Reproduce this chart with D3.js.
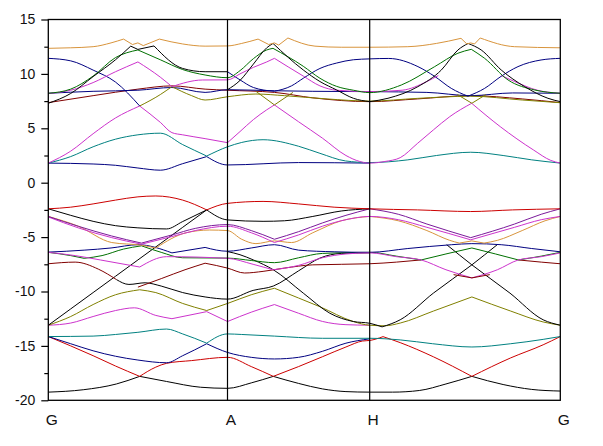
<!DOCTYPE html>
<html><head><meta charset="utf-8">
<script src="https://cdn.jsdelivr.net/npm/d3@7"></script>
<style>body{margin:0;background:#fff}svg{display:block}</style>
</head><body>
<svg id="c" width="603" height="446"></svg>
<script>
// ---- k-path (high-symmetry points) and ticks ----
const kPoints = [0, 1, 2, 3];
const kLabels = ["G", "A", "H", "G"];
const yMajorTicks = [15, 10, 5, 0, -5, -10, -15, -20];
const yMinorTicks = [12.5, 7.5, 2.5, -2.5, -7.5, -12.5, -17.5];
const yDomain = [-20, 15];

// ---- band energies: [k, E(eV)] ----
const orangeTop = [[0,12.35],[.125,12.4],[.25,12.5],[.35,12.85],[.42,13.2],[.47,12.7],[.5,12.85],[.53,12.6],[.62,13.2],[.75,12.75],[.875,12.55],[1,12.57],[1.1,12.8],[1.215,13.2],[1.29,12.7],[1.33,12.85],[1.36,12.65],[1.425,13.3],[1.615,12.55],[1.8,12.45],[2,12.45],[2.2,12.5],[2.35,12.8],[2.479,13.27],[2.51,12.75],[2.53,12.85],[2.55,12.75],[2.58,13.3],[2.76,12.5],[3,12.4]];
const blackM = [[0,7.3],[.125,8.2],[.25,9.75],[.375,11.3],[.46,12.55],[.5,12.25],[.59,12.57],[.75,10.5],[.875,10.2],[1,10.2]];
const blackUp = [[1,8.55],[1.088,9.4],[1.182,10.9],[1.276,12.4],[1.32,12.8],[1.533,10.36],[1.65,9.3],[1.768,8.52],[1.885,7.76],[2,7.45],[2.096,7.76],[2.253,8.83],[2.376,10.36],[2.463,12.2],[2.516,12.8],[2.585,12.2],[2.69,10.36],[2.813,8.83],[2.935,7.76],[3,7.45]];
const greenUp = [[0,8.22],[.125,8.6],[.25,9.8],[.375,11.5],[.5,12.2],[.625,11.3],[.75,10.4],[.875,9.9],[1,9.65],[1.088,10.3],[1.182,11.4],[1.276,12.2],[1.32,12.35],[1.533,10.7],[1.65,9.6],[1.768,8.85],[1.885,8.5],[2,8.28],[2.166,8.98],[2.341,10.67],[2.463,11.9],[2.533,12.26],[2.603,11.43],[2.726,9.44],[2.866,8.52],[3,8.22]];
const navyDesc = [[0,11.43],[.125,11.2],[.25,10.35],[.375,9.25],[.51,7.05]];
const navyArc = [[1,10.2],[1.088,9.45],[1.182,8.75],[1.33,8.4],[1.45,8.9],[1.533,9.6],[1.65,10.5],[1.768,11.0],[1.885,11.3],[2,11.38],[2.1,11.42],[2.253,10.67],[2.341,9.77],[2.428,8.67],[2.515,7.95],[2.603,8.67],[2.689,9.77],[2.778,10.67],[2.899,11.28],[3,11.43]];
const oliveUp = [[.51,7.05],[.625,8.1],[.69,8.83],[.8,8.0],[.875,7.6],[1,7.9],[1.2,8.15],[1.4,8.0],[1.7,7.7],[2,7.5],[2.25,7.75],[2.53,7.95],[2.8,7.6],[3,7.35]];
const oliveV1 = [[1.2,8.4],[1.33,7.15],[1.46,8.3]];
const oliveV2 = [[2.46,8.1],[2.536,7.3],[2.61,8.1]];
const maroonUp = [[0,7.36],[.25,8.0],[.5,8.6],[.69,8.9],[.875,8.6],[1,8.5],[1.33,8.3],[1.6,7.8],[2,7.45],[2.25,7.7],[2.53,8.0],[2.8,7.7],[3,7.36]];
const navyFlat = [[0,8.22],[.25,8.4],[.5,8.5],[.69,8.75],[.875,8.3],[1,8.55],[1.33,8.45],[1.6,8.4],[2,8.37],[2.3,8.3],[2.53,8.0],[2.75,8.25],[3,8.22]];
const magentaPeak = [[0,8.2],[.125,8.5],[.25,9.2],[.375,10.2],[.5,11.1],[.625,9.7],[.69,8.83],[.86,9.44],[1,9.45],[1.088,10.0],[1.182,10.6],[1.276,11.1],[1.33,11.43],[1.533,9.8],[1.65,8.9],[1.768,8.5],[2,8.37],[2.17,8.5],[2.3,9.3],[2.36,9.85]];
const magentaPeak2 = [[2.69,9.85],[2.76,9.3],[2.88,8.5],[3,8.22]];
const magentaLow = [[0,1.8],[.125,2.9],[.25,4.5],[.375,5.95],[.51,7.05],[.625,5.55],[.69,4.6],[.75,4.4],[.875,4.05],[1,3.68],[1.088,4.7],[1.182,5.8],[1.276,6.7],[1.33,7.15],[1.5,5.6],[1.667,4.1],[1.833,2.5],[1.93,1.95],[2,1.8],[2.08,1.95],[2.16,2.3],[2.25,3.6],[2.334,4.85],[2.42,6.07],[2.535,7.3],[2.685,5.15],[2.86,3.0],[2.95,2.05],[3,1.8]];
const tealUp = [[0,1.8],[.125,2.4],[.25,3.3],[.375,4.0],[.5,4.4],[.625,4.55],[.75,3.5],[.884,2.45],[1,3.3],[1.1,3.7],[1.25,3.95],[1.5,3.35],[1.65,2.7],[1.83,2.0],[2,1.85],[2.2,2.1],[2.35,2.5],[2.53,2.8],[2.7,2.5],[2.85,2.1],[3,1.8]];
const navyLow = [[0,1.8],[.25,1.72],[.375,1.6],[.5,1.35],[.625,1.15],[.75,1.75],[.884,2.4],[1,1.63],[1.5,1.85],[2,1.8]];

const redTop = [[0,-2.4],[.125,-2.25],[.25,-1.95],[.375,-1.6],[.5,-1.3],[.6,-1.22],[.75,-1.6],[.884,-2.5],[1,-1.9],[1.25,-1.72],[1.5,-1.95],[1.75,-2.25],[2,-2.4],[2.25,-2.5],[2.53,-2.65],[2.75,-2.5],[3,-2.4]];
const blackTop = [[0,-2.4],[.125,-3.0],[.25,-3.55],[.375,-3.95],[.5,-4.15],[.66,-4.25],[.75,-3.57],[.884,-2.5],[1,-3.42],[1.25,-3.55],[1.4,-3.5],[1.6,-3.1],[1.8,-2.6],[2,-2.4]];
const blackStraight = [[0,-13.1],[.125,-11.6],[.25,-10.1],[.375,-8.6],[.5,-7.1],[.625,-5.6],[.75,-4.1],[.884,-2.5]];
const purple1 = [[0,-3.1],[.167,-4.0],[.354,-4.9],[.52,-5.55],[.69,-4.8],[.82,-4.2],[1,-3.85],[1.167,-4.4],[1.33,-5.2],[1.5,-4.5],[1.667,-3.7],[1.833,-3.0],[2,-2.4],[2.15,-2.9],[2.3,-3.8],[2.53,-5.05],[2.76,-3.8],[2.9,-2.9],[3,-2.4]];
const purple2 = [[0,-3.15],[.167,-4.15],[.354,-5.05],[.52,-5.65],[.69,-4.95],[.82,-4.4],[1,-4.0],[1.167,-4.6],[1.33,-5.5],[1.5,-4.8],[1.667,-4.0],[1.833,-3.4],[2,-3.1],[2.15,-3.4],[2.3,-4.1],[2.53,-5.25],[2.76,-4.1],[2.9,-3.4],[3,-3.1]];
const orangeLow = [[0,-3.1],[.167,-4.0],[.354,-5.5],[.52,-5.75],[.6,-6.0],[.77,-4.6],[.9,-4.35],[1,-4.4],[1.1,-5.2],[1.2,-5.6],[1.33,-5.35],[1.45,-5.5],[1.6,-4.6],[1.8,-3.5],[2,-3.1],[2.15,-3.5],[2.3,-4.4],[2.42,-5.3],[2.47,-5.55],[2.536,-5.35],[2.6,-5.55],[2.67,-5.3],[2.8,-4.4],[2.92,-3.5],[3,-3.1]];
const navyMid = [[0,-6.38],[.2,-6.2],[.35,-6.0],[.5,-5.7],[.69,-6.45],[.875,-5.95],[1,-6.3],[1.167,-6.0],[1.33,-5.7],[1.5,-6.2],[1.75,-6.35],[2,-6.4],[2.2,-6.05],[2.43,-5.7],[2.536,-5.6],[2.69,-5.7],[2.85,-6.05],[3,-6.35]];
const greenLow = [[0,-6.4],[.125,-6.7],[.2,-6.95],[.3,-6.7],[.42,-6.1],[.52,-5.8],[.63,-6.4],[.75,-6.9],[1,-6.93],[1.167,-7.15],[1.33,-7.35],[1.5,-6.9],[1.667,-6.5],[2,-6.4],[2.14,-6.75],[2.27,-7.1],[2.4,-6.55],[2.536,-6.0],[2.66,-6.55],[2.78,-7.1],[2.9,-6.75],[3,-6.4]];
const magentaMid = [[0,-6.4],[.15,-6.7],[.29,-7.1],[.51,-7.75],[.66,-6.8],[1,-6.95],[1.18,-7.5],[1.322,-8.0],[1.5,-7.6],[1.667,-6.9],[1.833,-6.55],[2,-6.45],[2.14,-6.8],[2.27,-7.1],[2.4,-8.0],[2.536,-8.75],[2.67,-8.0],[2.78,-7.1],[2.9,-6.8],[3,-6.45]];
const maroonL = [[0,-7.45],[.15,-7.3],[.28,-7.95],[.38,-8.9]];
const maroonR = [[.5,-9.6],[.633,-8.8],[.763,-8.0],[.875,-7.4],[1,-7.85],[1.12,-8.3],[1.25,-8.15],[1.4,-7.85],[1.6,-7.55],[2,-7.45],[2.14,-7.3],[2.27,-7.1]];
const maroonR2 = [[2.78,-7.1],[2.9,-7.3],[3,-7.45]];
const maroonBottom = [[2.44,-8.45],[2.536,-8.75],[2.63,-8.45]];
const blackArc = [[.38,-8.9],[.45,-9.35],[.54,-9.2],[.63,-9.5],[.75,-10.1],[.875,-10.5],[1,-10.7],[1.18,-9.9],[1.322,-9.5],[1.5,-8.1],[1.65,-6.93],[1.8,-6.5],[2,-6.45]];
const blackDiag = [[1,-6.33],[1.088,-6.62],[1.182,-7.1],[1.322,-8.0],[1.533,-10.15],[1.72,-12.0],[1.885,-12.76],[2,-12.92],[2.065,-13.25],[2.16,-12.6],[2.334,-10.15],[2.536,-7.55],[2.669,-5.7]];
const blackFall = [[2.404,-5.7],[2.536,-7.55],[2.736,-10.15],[2.91,-12.6],[3,-13.1]];
const oliveLow = [[0,-13.1],[.125,-12.3],[.25,-11.2],[.375,-10.3],[.51,-9.84],[.6,-10.1],[.75,-11.1],[.884,-11.75],[1,-11.1],[1.167,-10.3],[1.33,-9.7],[1.5,-10.6],[1.65,-11.4],[1.885,-12.76],[2,-13.1],[2.08,-13.15],[2.16,-12.9],[2.334,-11.8],[2.536,-10.5],[2.74,-11.8],[2.91,-12.8],[3,-13.1]];
const magentaLow2 = [[0,-13.1],[.125,-12.9],[.25,-12.3],[.375,-11.75],[.48,-11.5],[.6,-12.2],[.69,-12.5],[.884,-11.85],[1,-12.76],[1.167,-11.9],[1.33,-11.2],[1.5,-12.0],[1.667,-12.75],[1.833,-13.05],[2,-13.1]];
const tealLow = [[0,-14.14],[.25,-14.1],[.375,-13.95],[.5,-13.75],[.66,-13.45],[.75,-13.9],[.884,-14.75],[1,-13.9],[1.1,-13.95],[1.33,-14.1],[1.667,-14.3],[2,-14.3],[2.16,-14.45],[2.33,-14.8],[2.536,-15.1],[2.74,-14.8],[2.91,-14.4],[3,-14.14]];
const navyBottom = [[0,-14.14],[.125,-14.8],[.25,-15.45],[.375,-15.95],[.5,-16.3],[.66,-16.55],[.75,-15.9],[.884,-14.8],[1,-15.6],[1.167,-16.05],[1.33,-16.2],[1.5,-16.05],[1.667,-15.5],[1.833,-14.75],[2,-14.35]];
const redLow = [[0,-14.14],[.125,-15.0],[.25,-15.9],[.375,-16.85],[.51,-17.8],[.6,-16.95],[.66,-16.6],[.8,-16.35],[1,-16.05],[1.167,-16.9],[1.322,-17.8],[1.5,-16.9],[1.667,-16.0],[1.833,-15.1],[1.95,-14.55],[2,-14.5],[2.07,-14.15],[2.16,-14.7],[2.334,-16.0],[2.536,-17.8],[2.74,-16.1],[2.91,-14.9],[3,-14.14]];
const blackBottom = [[0,-19.25],[.195,-19.03],[.38,-18.5],[.51,-17.8],[.66,-18.27],[.85,-18.8],[1,-18.9],[1.167,-18.4],[1.322,-17.8],[1.5,-18.45],[1.667,-18.95],[1.833,-19.2],[2,-19.25],[2.12,-19.25],[2.26,-19.1],[2.4,-18.5],[2.536,-17.8],[2.7,-18.55],[2.85,-19.0],[3,-19.15]];

// ---- drawing ----
const palette = {
  black:"#000000", navy:"#000080", red:"#cc0000", maroon:"#800000", green:"#007000",
  olive:"#808000", magenta:"#cc33cc", purple:"#7a1a9a", teal:"#008080", orange:"#d8943c"
};
const series = [
  [navyLow,"navy"],[tealUp,"teal"],[magentaLow,"magenta"],
  [maroonUp,"maroon"],[navyFlat,"navy"],[oliveUp,"olive"],[oliveV1,"olive"],[oliveV2,"olive"],
  [navyDesc,"navy"],[navyArc,"navy"],[magentaPeak,"magenta"],[magentaPeak2,"magenta"],
  [greenUp,"green"],[blackUp,"black"],[blackM,"black"],[orangeTop,"orange"],
  [blackBottom,"black"],[redLow,"red"],[navyBottom,"navy"],[tealLow,"teal"],
  [magentaLow2,"magenta"],[oliveLow,"olive"],[blackStraight,"black"],[blackDiag,"black"],[blackFall,"black"],
  [blackArc,"black"],[maroonL,"maroon"],[maroonR,"maroon"],[maroonR2,"maroon"],
  [greenLow,"green"],[navyMid,"navy"],[magentaMid,"magenta"],[maroonBottom,"maroon"],
  [orangeLow,"orange"],[purple2,"magenta"],[purple1,"purple"],[blackTop,"black"],[redTop,"red"]
];

const L = 48.3, R = 560.3, T = 19.5, B = 400.3;
const svg = d3.select("#c");
const x = d3.scaleLinear().domain(kPoints).range([L, 227.5, 369.7, R]);
const y = d3.scaleLinear().domain(yDomain).range([B, T]);

svg.append("defs").append("clipPath").attr("id","clip")
  .append("rect").attr("x",L).attr("y",T).attr("width",R-L).attr("height",B-T);

const line = d3.line().x(d=>d[0]).y(d=>d[1]).curve(d3.curveMonotoneX);

// split a band at sharp crossing vertices so that they stay pointed
function pieces(pts){
  const p = pts.map(d=>[x(d[0]), y(d[1])]);
  const out = []; let cur = [p[0]];
  for(let i=1;i<p.length;i++){
    cur.push(p[i]);
    if(i<p.length-1){
      const s1=(p[i][1]-p[i-1][1])/(p[i][0]-p[i-1][0]);
      const s2=(p[i+1][1]-p[i][1])/(p[i+1][0]-p[i][0]);
      if(Math.sign(s1)!==Math.sign(s2) && Math.min(Math.abs(s1),Math.abs(s2))>0.15){
        out.push(cur); cur=[p[i]];
      }
    }
  }
  out.push(cur);
  return out;
}

const g = svg.append("g").attr("clip-path","url(#clip)");
series.forEach(([pts,c])=>{
  pieces(pts).forEach(seg=>{
    g.append("path").attr("d", line(seg)).attr("fill","none")
      .attr("stroke", palette[c]).attr("stroke-width",1).attr("stroke-linejoin","round");
  });
});

// vertical lines at A and H
svg.selectAll("line.kv").data(kPoints.slice(1,3)).enter().append("line")
  .attr("x1",d=>x(d)).attr("x2",d=>x(d)).attr("y1",T).attr("y2",B)
  .attr("stroke","#000").attr("stroke-width",1.2);

// frame
svg.append("rect").attr("x",L).attr("y",T).attr("width",R-L).attr("height",B-T)
  .attr("fill","none").attr("stroke","#000").attr("stroke-width",1.3);

// y axis
const ax = svg.append("g").attr("transform",`translate(${L},0)`)
  .call(d3.axisLeft(y).tickValues(yMajorTicks).tickSize(7).tickPadding(6).tickFormat(d=>String(d)));
ax.select(".domain").remove();
ax.selectAll("text").attr("font-family","'Liberation Sans', Arial, sans-serif").attr("font-size",14).attr("fill","#111");
ax.selectAll("line").attr("stroke","#000").attr("stroke-width",1.2);
const axm = svg.append("g").attr("transform",`translate(${L},0)`)
  .call(d3.axisLeft(y).tickValues(yMinorTicks).tickSize(4).tickFormat(""));
axm.select(".domain").remove();
axm.selectAll("line").attr("stroke","#000").attr("stroke-width",1.2);

// k labels
svg.selectAll("text.kl").data(kPoints).enter().append("text")
  .attr("x",d=>x(d)+3.5).attr("y",425).attr("text-anchor","middle")
  .attr("font-family","'Liberation Sans', Arial, sans-serif").attr("font-size",15.5).attr("fill","#111")
  .text((d,i)=>kLabels[i]);
</script>
</body></html>
